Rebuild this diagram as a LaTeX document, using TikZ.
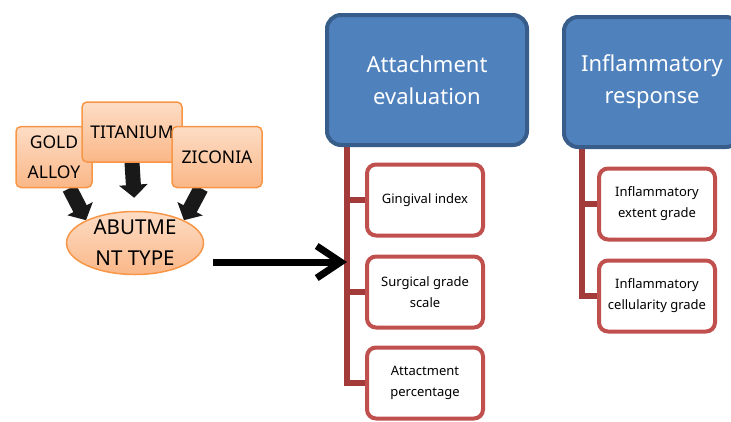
\documentclass[tikz,border=0pt]{standalone}
\usepackage{fontspec}
\setmainfont{Noto Sans}
\usetikzlibrary{arrows.meta,positioning,calc,shapes.geometric,backgrounds}
\definecolor{HeadBlue}{HTML}{4F81BD}
\definecolor{HeadEdge}{HTML}{385D8A}
\definecolor{ItemRed}{HTML}{C0504D}
\definecolor{TrunkRed}{HTML}{A33B3B}
\definecolor{PeachTop}{HTML}{FDDDC6}
\definecolor{PeachBot}{HTML}{FAB787}
\definecolor{PeachEdge}{HTML}{F79646}

\begin{document}
\begin{tikzpicture}[x=1pt,y=-1pt,
  head/.style={draw=HeadEdge,fill=HeadBlue,line width=4pt,rounded corners=14pt,minimum width=200pt,minimum height=130pt,text=white,align=center,font=\fontsize{22}{32}\selectfont},
  item/.style={draw=ItemRed,fill=white,line width=4pt,rounded corners=9pt,minimum width=116pt,minimum height=71pt,align=center,font=\fontsize{13}{21}\selectfont},
  trunk/.style={draw=TrunkRed,line width=6pt},
  metal/.style={draw=PeachEdge,line width=1.5pt,top color=PeachTop,bottom color=PeachBot,rounded corners=5pt,align=center,inner sep=0pt,font=\fontsize{17.5}{30}\selectfont},
  fat/.style={line width=15pt,black!90,-{Triangle[width=28pt,length=13pt]}}]
  \useasboundingbox (0,0) rectangle (731,421);

  % evaluation groups
  \node[head] (ae) at (427,80) {Attachment\\evaluation};
  \node[head,minimum width=176pt] (ir) at (652,82) {Inflammatory\\response};
  \node[item] (gi) at (425,200) {Gingival index};
  \node[item] (sg) at (425,292) {Surgical grade\\scale};
  \node[item] (ap) at (425,383) {Attactment\\percentage};
  \node[item] (ie) at (657,204) {Inflammatory\\extent grade};
  \node[item] (ic) at (657,296) {Inflammatory\\cellularity grade};

  % abutment materials
  \node[metal,minimum width=76pt,minimum height=61pt] (gold) at (54,157) {GOLD\\ALLOY};
  \node[metal,minimum width=100pt,minimum height=60pt] (ti) at (132,132) {TITANIUM};
  \node[metal,minimum width=90pt,minimum height=61pt] (zi) at (217,157) {ZICONIA};
  \node[metal,ellipse,minimum width=137pt,minimum height=63pt,
        label={[font=\fontsize{20.5}{31}\selectfont,align=center]center:ABUTME\\NT TYPE}] (abut) at (135,243) {};

  \coordinate (aeroot) at (ae.south -| 347,0);
  \coordinate (irroot) at (ir.south -| 582,0);
  \coordinate (tail) at (213,262);

  \begin{scope}[on background layer]
    \draw[trunk] (aeroot) |- (gi.west);
    \draw[trunk] (aeroot) |- (sg.west);
    \draw[trunk] (aeroot) |- (ap.west);
    \draw[trunk] (irroot) |- (ie.west);
    \draw[trunk] (irroot) |- (ic.west);
    \draw[fat] ($(gold.south)!0.4!(gold.south east)$) -- (abut.north west);
    \draw[fat,shorten >=13pt] (ti.south) -- (abut.north);
    \draw[fat] ($(zi.south)!0.35!(zi.south west)$) -- (abut.north east);
  \end{scope}

  \draw[line width=7pt,-{Straight Barb[length=24pt,width=32pt]}] (tail) -- (tail -| aeroot);
\end{tikzpicture}
\end{document}
